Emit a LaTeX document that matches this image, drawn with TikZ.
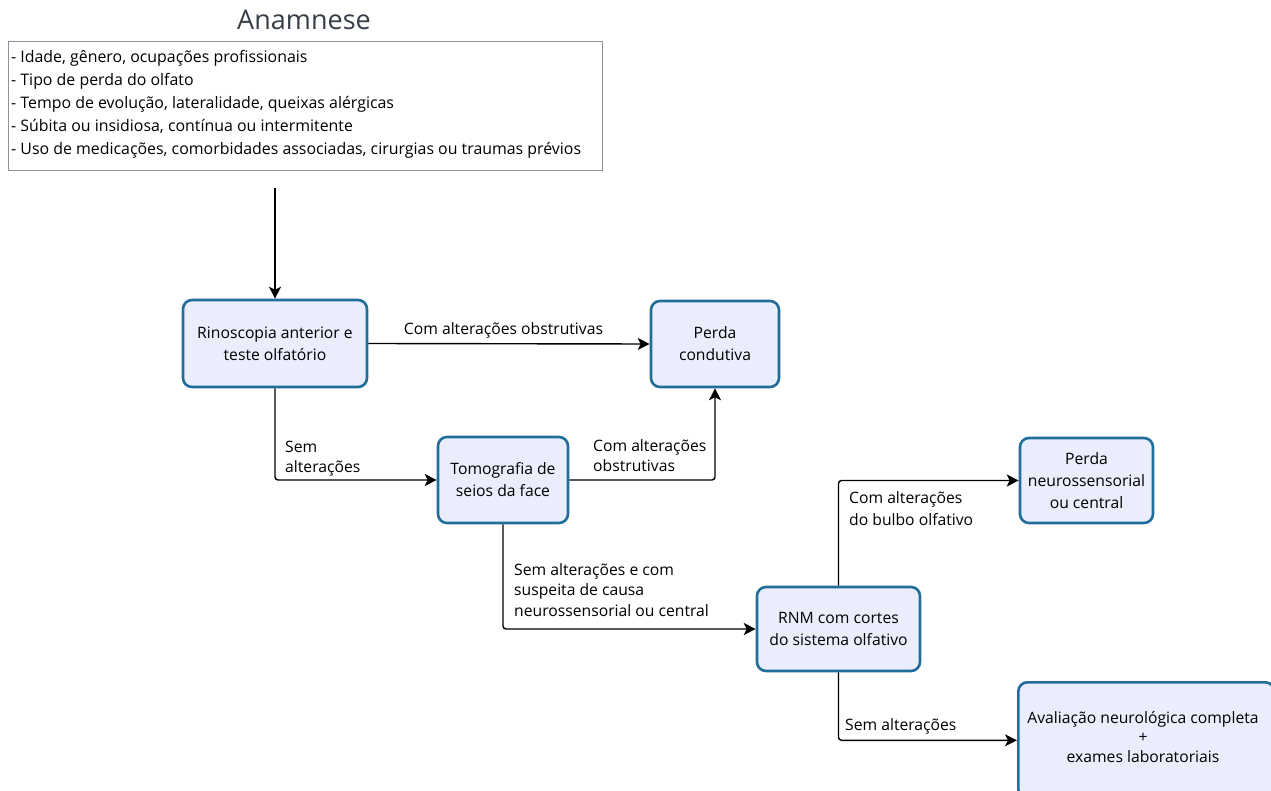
\documentclass[tikz,border=0pt]{standalone}
\usepackage{fontspec}
\setmainfont{Open Sans}
\usetikzlibrary{arrows.meta}
\definecolor{boxblue}{RGB}{34,110,155}
\definecolor{boxfill}{RGB}{233,237,252}
\definecolor{anagray}{RGB}{140,146,154}
\definecolor{titlegray}{RGB}{55,62,72}
\begin{document}
\begin{tikzpicture}[x=1pt,y=-1pt,
  proc/.style={draw=boxblue, line width=2.6pt, fill=boxfill, rounded corners=9pt,
    align=center, inner sep=0pt, font=\fontsize{15.7}{22}\selectfont},
  lbl/.style={align=left, inner sep=0pt, anchor=base west, font=\fontsize{15.7}{20.5}\selectfont},
  conn/.style={line width=1.4pt, rounded corners=3pt, -{Stealth[length=12pt,width=12pt,inset=3pt]}}]
\useasboundingbox (0,0) rectangle (1271,791);
\clip (0,0) rectangle (1271,791);
\fill[white] (0,0) rectangle (1271,791);

\node[text=titlegray, font=\fontsize{27}{30}\selectfont, inner sep=0pt] (title) at (304,20) {Anamnese};
\node[draw=anagray, line width=1pt, fill=white, anchor=north west, minimum width=594, minimum height=129,
  inner sep=0pt] (ana) at (8,41) {};
\node[anchor=base west, align=left, inner sep=0pt, font=\fontsize{15.9}{23}\selectfont] (anatext) at (11,155)
 {- Idade, gênero, ocupações profissionais\\
  - Tipo de perda do olfato\\
  - Tempo de evolução, lateralidade, queixas alérgicas\\
  - Súbita ou insidiosa, contínua ou intermitente\\
  - Uso de medicações, comorbidades associadas, cirurgias ou traumas prévios};

\node[proc, minimum width=184, minimum height=87] (rino) at (275,343.5) {Rinoscopia anterior e\\teste olfatório};
\node[proc, minimum width=128, minimum height=86] (cond) at (715,344) {Perda\\condutiva};
\node[proc, minimum width=130, minimum height=86] (tomo) at (503,480) {Tomografia de\\seios da face};
\node[proc, minimum width=163, minimum height=84] (rnm) at (838.5,629) {RNM com cortes\\do sistema olfativo};
\node[proc, minimum width=133, minimum height=85] (neuro) at (1086.5,480.5) {Perda\\neurossensorial\\ou central};
\node[proc, minimum width=256, minimum height=116, anchor=north west] (aval) at (1017,681) {};
\node[align=center, inner sep=0pt, font=\fontsize{15.7}{19.5}\selectfont] (avaltext) at (1143,737)
 {Avaliação neurológica completa\\+\\exames laboratoriais};

\coordinate (start) at (275,188);
\draw[conn] (start) -- (rino.north);
\draw[conn] (rino.east) -- (cond.west);
\draw[conn] (rino.south) |- (tomo.west);
\draw[conn] (tomo.east) -| (cond.south);
\draw[conn] (tomo.south) |- (rnm.west);
\draw[conn] (rnm.north) |- (neuro.west);
\draw[conn] (rnm.south) |- (aval.west);

\node[inner sep=0pt, anchor=base, font=\fontsize{15.7}{20}\selectfont] (l1) at (503.5,335) {Com alterações obstrutivas};
\node[lbl] (l2) at (285,472.5) {Sem\\alterações};
\node[lbl] (l3) at (593,471.5) {Com alterações\\obstrutivas};
\node[lbl] (l4) at (514,616) {Sem alterações e com\\suspeita de causa\\neurossensorial ou central};
\node[lbl, font=\fontsize{15.7}{22}\selectfont] (l5) at (849,525) {Com alterações\\do bulbo olfativo};
\node[lbl] (l6) at (845,730) {Sem alterações};
\end{tikzpicture}
\end{document}
